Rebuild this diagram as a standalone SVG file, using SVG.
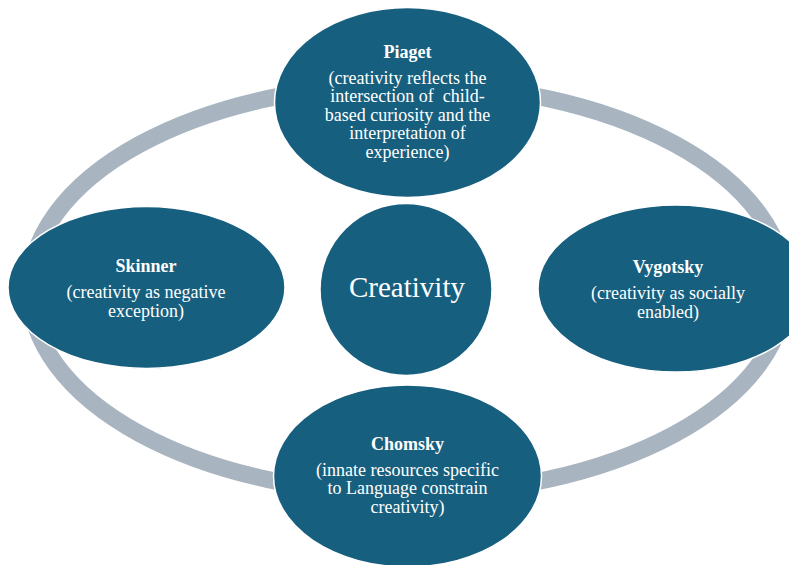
<svg xmlns="http://www.w3.org/2000/svg" width="789" height="565" viewBox="0 0 789 565">
  <style>
    .ring { fill: none; stroke: #a8b5c1; stroke-width: 17; }
    .node { fill: #175f7f; stroke: #ffffff; stroke-width: 1.5; }
    .t { font-family: "Liberation Serif", "Times New Roman", serif; fill: #ffffff; text-anchor: middle; font-size: 18px; }
    .title { font-weight: bold; }
    .big { font-size: 29px; }
  </style>
  <rect width="789" height="565" fill="#ffffff"/>

  <!-- surrounding cycle ring -->
  <g id="connectors">
    <ellipse class="ring" cx="407.5" cy="289" rx="378" ry="205"/>
  </g>

  <g id="piaget">
    <ellipse class="node" cx="407.5" cy="102.5" rx="133" ry="95"/>
    <text class="t title" x="407.5" y="58">Piaget</text>
    <text class="t" x="407.5" y="83.5">(creativity reflects the</text>
    <text class="t" x="407.5" y="102" xml:space="preserve">intersection of  child-</text>
    <text class="t" x="407.5" y="120.5">based curiosity and the</text>
    <text class="t" x="407.5" y="139">interpretation of</text>
    <text class="t" x="407.5" y="157.5">experience)</text>
  </g>

  <g id="skinner">
    <ellipse class="node" cx="146.5" cy="287.5" rx="138.5" ry="81"/>
    <text class="t title" x="146" y="272">Skinner</text>
    <text class="t" x="146" y="297.5">(creativity as negative</text>
    <text class="t" x="146" y="317">exception)</text>
  </g>

  <g id="vygotsky">
    <ellipse class="node" cx="676" cy="288.5" rx="138" ry="83.5"/>
    <text class="t title" x="668" y="273">Vygotsky</text>
    <text class="t" x="668" y="298.5">(creativity as socially</text>
    <text class="t" x="668" y="318">enabled)</text>
  </g>

  <g id="chomsky">
    <ellipse class="node" cx="407.5" cy="476" rx="134" ry="91"/>
    <text class="t title" x="407.5" y="450">Chomsky</text>
    <text class="t" x="407.5" y="475.5">(innate resources specific</text>
    <text class="t" x="407.5" y="494">to Language constrain</text>
    <text class="t" x="407.5" y="512.5">creativity)</text>
  </g>

  <g id="creativity">
    <circle class="node" cx="406" cy="289.5" r="86"/>
    <text class="t big" x="407" y="297">Creativity</text>
  </g>
</svg>
